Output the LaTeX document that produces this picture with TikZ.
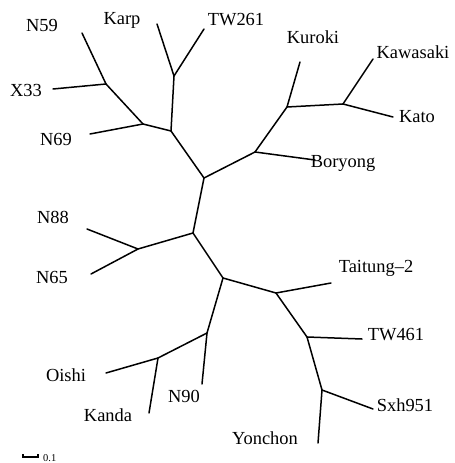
\documentclass[tikz,border=0pt]{standalone}
\usepackage{fontspec}
\setmainfont{Liberation Serif}
\begin{document}
\begin{tikzpicture}[x=1bp,y=-1bp,
  br/.style={line width=1.5bp,line cap=round,line join=round},
  lab/.style={inner sep=0pt,font=\fontsize{18.5}{18.5}\selectfont},
  small/.style={inner sep=0pt,font=\fontsize{10.5}{10.5}\selectfont}]
\useasboundingbox (0,0) rectangle (455,463);
% internal junctions
\coordinate (r1) at (204,178);
\coordinate (r2) at (193,233);
\coordinate (a1) at (171,131);
\coordinate (a2) at (143,124);
\coordinate (a3) at (106,84);
\coordinate (a4) at (174,76);
\coordinate (b1) at (255,152);
\coordinate (b2) at (287,107);
\coordinate (b3) at (343,104);
\coordinate (c1) at (138,249);
\coordinate (d1) at (223,278);
\coordinate (d2) at (207,333);
\coordinate (d3) at (158,358);
\coordinate (e1) at (276,293);
\coordinate (e2) at (307,337);
\coordinate (e3) at (322,390);
% tips
\coordinate (tN59) at (82,33);
\coordinate (tX33) at (53,89);
\coordinate (tN69) at (90,134);
\coordinate (tKarp) at (157,24);
\coordinate (tTW261) at (204,29);
\coordinate (tBor) at (315,160);
\coordinate (tKur) at (300,62);
\coordinate (tKaw) at (373,59);
\coordinate (tKato) at (393,117);
\coordinate (tN88) at (87,229);
\coordinate (tN65) at (91,274);
\coordinate (tN90) at (202,384);
\coordinate (tOishi) at (106,373);
\coordinate (tKanda) at (149,413);
\coordinate (tTai) at (331,283);
\coordinate (tTW461) at (362,339);
\coordinate (tSxh) at (373,409);
\coordinate (tYon) at (318,443);
% branches
\draw[br] (r1) -- (r2);
\draw[br] (r1) -- (a1);
\draw[br] (a1) -- (a2);
\draw[br] (a2) -- (a3);
\draw[br] (a3) -- (tN59);
\draw[br] (a3) -- (tX33);
\draw[br] (a2) -- (tN69);
\draw[br] (a1) -- (a4);
\draw[br] (a4) -- (tKarp);
\draw[br] (a4) -- (tTW261);
\draw[br] (r1) -- (b1);
\draw[br] (b1) -- (tBor);
\draw[br] (b1) -- (b2);
\draw[br] (b2) -- (tKur);
\draw[br] (b2) -- (b3);
\draw[br] (b3) -- (tKaw);
\draw[br] (b3) -- (tKato);
\draw[br] (r2) -- (c1);
\draw[br] (c1) -- (tN88);
\draw[br] (c1) -- (tN65);
\draw[br] (r2) -- (d1);
\draw[br] (d1) -- (d2);
\draw[br] (d2) -- (tN90);
\draw[br] (d2) -- (d3);
\draw[br] (d3) -- (tOishi);
\draw[br] (d3) -- (tKanda);
\draw[br] (d1) -- (e1);
\draw[br] (e1) -- (tTai);
\draw[br] (e1) -- (e2);
\draw[br] (e2) -- (tTW461);
\draw[br] (e2) -- (e3);
\draw[br] (e3) -- (tSxh);
\draw[br] (e3) -- (tYon);
% labels
\node[lab] (lN59) at (42,25) {N59};
\node[lab] (lKarp) at (122,20) {Karp};
\node[lab] (lTW261) at (236,20) {TW261};
\node[lab] (lX33) at (26,90) {X33};
\node[lab] (lN69) at (56,139) {N69};
\node[lab] (lKur) at (313,37) {Kuroki};
\node[lab] (lKaw) at (413,52) {Kawasaki};
\node[lab] (lKato) at (417,117) {Kato};
\node[lab] (lBor) at (343,163) {Boryong};
\node[lab] (lN88) at (53,217) {N88};
\node[lab] (lN65) at (52,277) {N65};
\node[lab] (lOishi) at (66,375) {Oishi};
\node[lab] (lN90) at (184,396) {N90};
\node[lab] (lKanda) at (108,415) {Kanda};
\node[lab] (lTai) at (376,268) {Taitung–2};
\node[lab] (lTW461) at (396,335) {TW461};
\node[lab] (lSxh) at (405,405) {Sxh951};
\node[lab] (lYon) at (265,438) {Yonchon};
% scale bar
\coordinate (s1) at (23,454);
\coordinate (s2) at (38,454);
\draw[line width=1.2bp] (s1) -- ++(0,3) -| (s2);
\node[small,anchor=west] (lscale) at (43,458) {0.1};
\end{tikzpicture}
\end{document}
